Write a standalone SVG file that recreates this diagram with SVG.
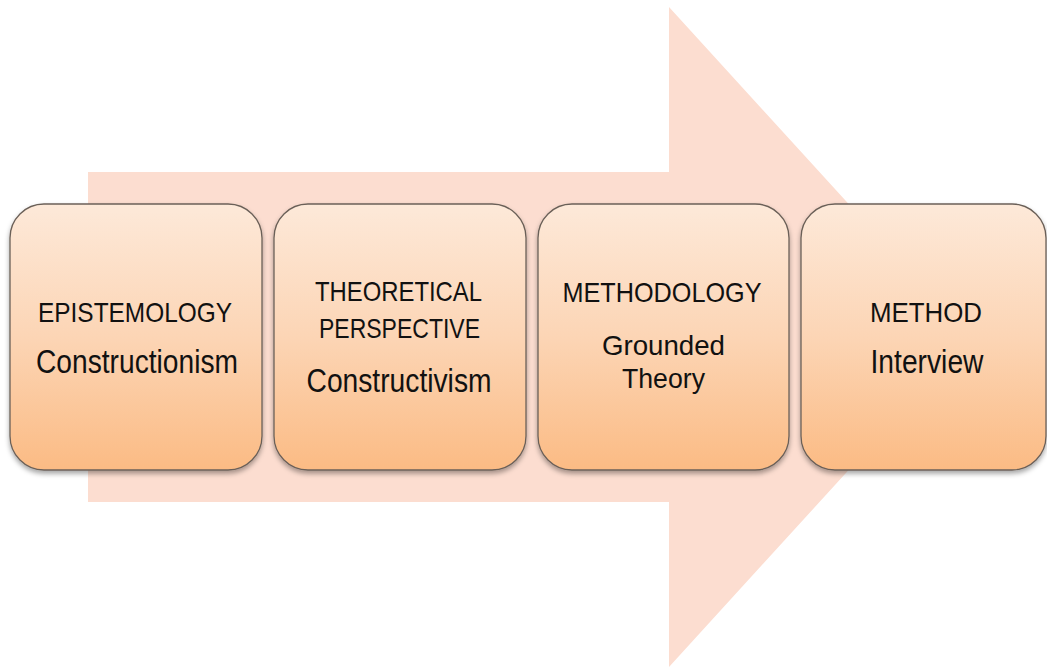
<svg xmlns="http://www.w3.org/2000/svg" width="1047" height="669" viewBox="0 0 1047 669">
<style>
.box{fill:url(#g);stroke:#6b6058;stroke-width:1.3;filter:url(#sh)}
.t{font-family:"Liberation Sans",Arial,sans-serif;fill:#111;text-anchor:middle}
.h{font-size:28.5px}
.s{font-size:33px}
</style>
<defs>
<linearGradient id="g" x1="0" y1="0" x2="0" y2="1">
<stop offset="0" stop-color="#fde9d9"/>
<stop offset="0.5" stop-color="#fcd5b5"/>
<stop offset="1" stop-color="#fbbb84"/>
</linearGradient>
<filter id="sh" x="-10%" y="-10%" width="120%" height="125%">
<feDropShadow dx="0" dy="3" stdDeviation="2.5" flood-color="#000" flood-opacity="0.35"/>
</filter>
</defs>
<rect width="1047" height="669" fill="#fff"/>
<g id="bigarrow">
<polygon points="88,172 669,172 669,7 970,337 669,667 669,502 88,502" fill="#fcddd0"/>
</g>
<g id="connectors"></g>
<g id="n1">
<rect class="box" x="10" y="204" width="252" height="266" rx="34" ry="34"/>
<text class="t h" x="135" y="321.5" textLength="194" lengthAdjust="spacingAndGlyphs">EPISTEMOLOGY</text>
<text class="t s" x="137" y="373" textLength="202" lengthAdjust="spacingAndGlyphs">Constructionism</text>
</g>
<g id="n2">
<rect class="box" x="274" y="204" width="252" height="266" rx="34" ry="34"/>
<text class="t h" x="398.5" y="301" textLength="167" lengthAdjust="spacingAndGlyphs">THEORETICAL</text>
<text class="t h" x="399.5" y="338.3" textLength="161" lengthAdjust="spacingAndGlyphs">PERSPECTIVE</text>
<text class="t s" x="399" y="392" textLength="185" lengthAdjust="spacingAndGlyphs">Constructivism</text>
</g>
<g id="n3">
<rect class="box" x="538" y="204" width="251" height="266" rx="34" ry="34"/>
<text class="t h" x="662" y="301.7" textLength="199" lengthAdjust="spacingAndGlyphs">METHODOLOGY</text>
<text class="t h" x="663.5" y="355" textLength="123" lengthAdjust="spacingAndGlyphs">Grounded</text>
<text class="t h" x="663.5" y="387.5" textLength="83" lengthAdjust="spacingAndGlyphs">Theory</text>
</g>
<g id="n4">
<rect class="box" x="801" y="204" width="245" height="266" rx="34" ry="34"/>
<text class="t h" x="926" y="321.7" textLength="112" lengthAdjust="spacingAndGlyphs">METHOD</text>
<text class="t s" x="927" y="373.3" textLength="113" lengthAdjust="spacingAndGlyphs">Interview</text>
</g>
</svg>
